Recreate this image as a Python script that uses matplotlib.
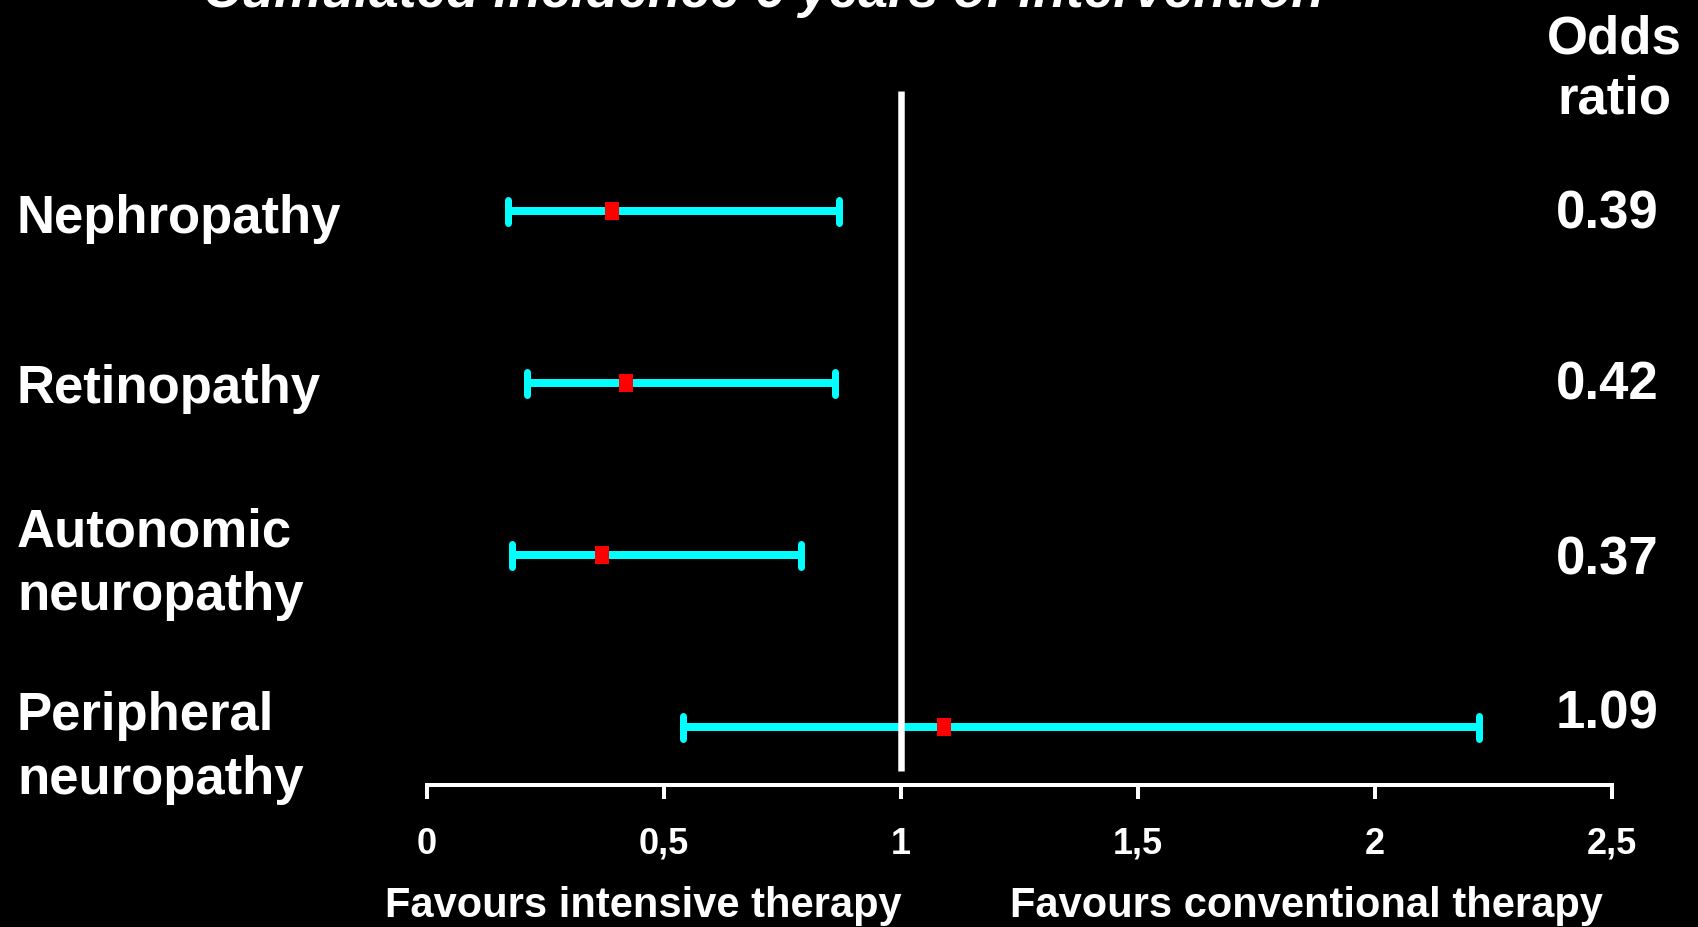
import matplotlib
matplotlib.use("Agg")
import matplotlib.pyplot as plt
from matplotlib.transforms import blended_transform_factory

# Outcomes (top to bottom), odds ratios and 95% confidence limits
outcomes = ["Nephropathy", "Retinopathy", "Autonomic\nneuropathy", "Peripheral\nneuropathy"]
odds_ratio = [0.39, 0.42, 0.37, 1.09]
ci_low = [0.17, 0.21, 0.18, 0.54]
ci_high = [0.87, 0.86, 0.79, 2.22]
or_labels = ["0.39", "0.42", "0.37", "1.09"]
tick_values = [0, 0.5, 1, 1.5, 2, 2.5]
tick_labels = ["0", "0,5", "1", "1,5", "2", "2,5"]

W, H = 1699, 928
PX = 72 / 100  # points per pixel at dpi 100
fig = plt.figure(figsize=(W / 100, H / 100), dpi=100, facecolor="black")

ax_left, ax_right = 427, 1612
ax_top, ax_bottom = 92, 786
ax = fig.add_axes([ax_left / W, 1 - ax_bottom / H, (ax_right - ax_left) / W, (ax_bottom - ax_top) / H])
ax.set_facecolor("black")
ax.set_xlim(0, 2.5)
ax.set_ylim(0.663, 4.698)

rows = [4, 3, 2, 1]
cyan = "#00FFFF"
rect_marker = [(-0.39, -0.5), (0.39, -0.5), (0.39, 0.5), (-0.39, 0.5), (-0.39, -0.5)]
for y, o, lo, hi in zip(rows, odds_ratio, ci_low, ci_high):
    ax.plot([lo, hi], [y, y], color=cyan, lw=8 * PX, solid_capstyle="butt", zorder=2)
    ax.vlines([lo, hi], y - 0.067, y + 0.067, colors=cyan, linewidth=7 * PX,
              capstyle="round", zorder=2)
    ax.plot([o], [y], marker=rect_marker, markersize=18 * PX, color="#FF0000",
            markeredgewidth=0, linestyle="none", zorder=4)

# Line of no effect
ax.plot([1, 1], [0.744, 4.698], color="white", lw=6.5 * PX, solid_capstyle="butt", zorder=3)

for side in ["top", "right", "left"]:
    ax.spines[side].set_visible(False)
ax.spines["bottom"].set_color("white")
ax.spines["bottom"].set_linewidth(4 * PX)
ax.set_yticks([])
ax.set_xticks(tick_values)
ax.set_xticklabels(tick_labels)
ax.tick_params(axis="x", colors="white", length=14 * PX, width=4 * PX, direction="out",
               pad=27 * PX)
for lbl in ax.get_xticklabels():
    lbl.set_fontfamily(["Liberation Sans", "DejaVu Sans"])
    lbl.set_fontweight("bold")
    lbl.set_fontsize(26)

bold = dict(color="white", fontweight="bold", family=["Liberation Sans", "DejaVu Sans"])

# Outcome names on the left
tr = blended_transform_factory(fig.transFigure, ax.transData)
ax.text(17 / W, 3.878, outcomes[0], transform=tr, ha="left", va="baseline", fontsize=38, **bold)
ax.text(17 / W, 2.890, outcomes[1], transform=tr, ha="left", va="baseline", fontsize=38, **bold)
ax.text(17 / W, 2.285, outcomes[2], transform=tr, ha="left", va="top", fontsize=38,
        linespacing=1.37, **bold)
ax.text(17 / W, 1.215, outcomes[3], transform=tr, ha="left", va="top", fontsize=38,
        linespacing=1.37, **bold)

# Odds ratio column
or_baselines = [4 - 0.093, 3 - 0.087, 2 - 0.11, 1 + 0.0]
for txt, y in zip(or_labels, or_baselines):
    ax.text(1607 / W, y, txt, transform=tr, ha="center", va="baseline", fontsize=38, **bold)
fig.text(1614 / W, 1 - 14 / H, "Odds\nratio", ha="center", va="top", fontsize=38,
         linespacing=1.27, **bold)

# Direction captions
fig.text(643 / W, 1 - 917 / H, "Favours intensive therapy", ha="center", va="baseline",
         fontsize=30, **bold)
fig.text(1306 / W, 1 - 917 / H, "Favours conventional therapy", ha="center", va="baseline",
         fontsize=30, **bold)

# Title
fig.text(763 / W, 1 - 7 / H, "Cumulated incidence 6 years of intervention", ha="center",
         va="baseline", fontsize=38.4, color="white", fontweight="bold", fontstyle="italic",
         family=["Liberation Sans", "DejaVu Sans"])

fig.savefig("out.png", dpi=100, facecolor="black")
